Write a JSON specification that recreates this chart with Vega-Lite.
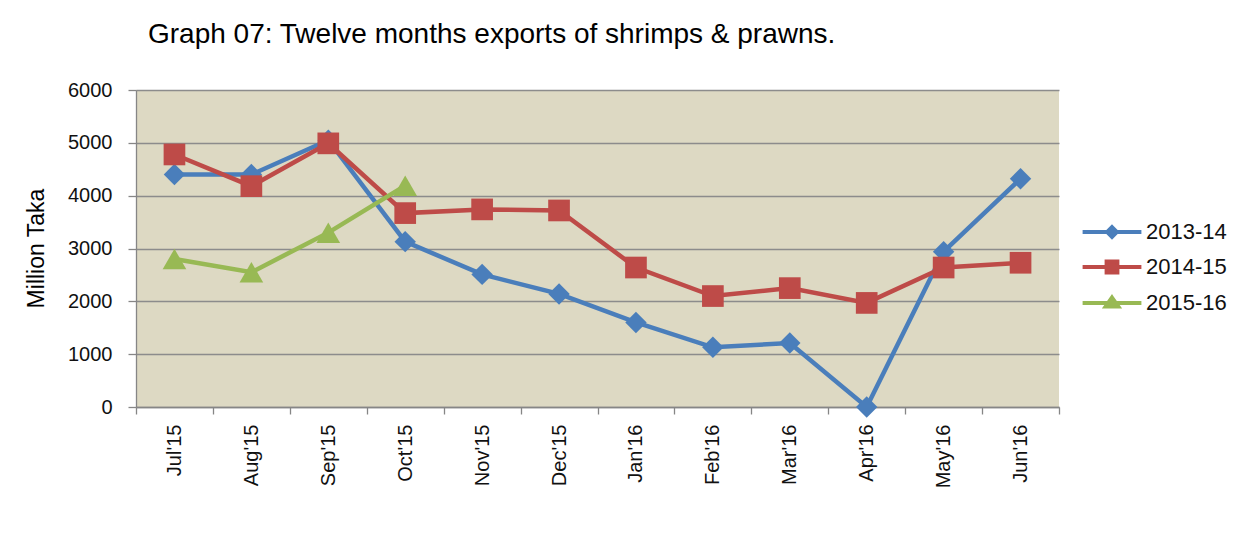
{
  "$schema": "https://vega.github.io/schema/vega-lite/v6.json",
  "autosize": "none",
  "width": 923,
  "height": 317,
  "padding": {"left": 136, "top": 90, "right": 199, "bottom": 137},
  "background": "white",
  "title": {
    "text": "Graph 07: Twelve months exports of shrimps & prawns.",
    "anchor": "start",
    "frame": "group",
    "dx": 12,
    "font": "Liberation Sans",
    "fontSize": 28,
    "fontWeight": "normal",
    "color": "#000000",
    "baseline": "alphabetic",
    "offset": 9
  },
  "config": {
    "view": {"stroke": null, "fill": "#DDD9C3"},
    "axis": {"labelFont": "Liberation Sans", "titleFont": "Liberation Sans", "labelColor": "#111111", "titleColor": "#000000"}
  },
  "data": {
    "values": [
      {"month": "Jul'15", "series": "2013-14", "value": 4400},
      {"month": "Aug'15", "series": "2013-14", "value": 4400},
      {"month": "Sep'15", "series": "2013-14", "value": 5050},
      {"month": "Oct'15", "series": "2013-14", "value": 3130},
      {"month": "Nov'15", "series": "2013-14", "value": 2510},
      {"month": "Dec'15", "series": "2013-14", "value": 2140},
      {"month": "Jan'16", "series": "2013-14", "value": 1600},
      {"month": "Feb'16", "series": "2013-14", "value": 1130},
      {"month": "Mar'16", "series": "2013-14", "value": 1210},
      {"month": "Apr'16", "series": "2013-14", "value": 0},
      {"month": "May'16", "series": "2013-14", "value": 2940},
      {"month": "Jun'16", "series": "2013-14", "value": 4320},
      {"month": "Jul'15", "series": "2014-15", "value": 4780},
      {"month": "Aug'15", "series": "2014-15", "value": 4180},
      {"month": "Sep'15", "series": "2014-15", "value": 4990},
      {"month": "Oct'15", "series": "2014-15", "value": 3670},
      {"month": "Nov'15", "series": "2014-15", "value": 3740},
      {"month": "Dec'15", "series": "2014-15", "value": 3720},
      {"month": "Jan'16", "series": "2014-15", "value": 2640},
      {"month": "Feb'16", "series": "2014-15", "value": 2100},
      {"month": "Mar'16", "series": "2014-15", "value": 2250},
      {"month": "Apr'16", "series": "2014-15", "value": 1970},
      {"month": "May'16", "series": "2014-15", "value": 2640},
      {"month": "Jun'16", "series": "2014-15", "value": 2730},
      {"month": "Jul'15", "series": "2015-16", "value": 2800},
      {"month": "Aug'15", "series": "2015-16", "value": 2550},
      {"month": "Sep'15", "series": "2015-16", "value": 3300},
      {"month": "Oct'15", "series": "2015-16", "value": 4190}
    ]
  },
  "encoding": {
    "x": {
      "field": "month",
      "type": "ordinal",
      "sort": null,
      "bandPosition": 0.5,
      "scale": {"type": "band", "paddingInner": 0, "paddingOuter": 0,
        "domain": ["Jul'15","Aug'15","Sep'15","Oct'15","Nov'15","Dec'15","Jan'16","Feb'16","Mar'16","Apr'16","May'16","Jun'16"]},
      "axis": {
        "title": null,
        "labelAngle": -90,
        "labelAlign": "right",
        "labelBaseline": "middle",
        "labelFontSize": 20,
        "labelPadding": 10,
        "tickBand": "extent",
        "tickSize": 7,
        "tickColor": "#868686",
        "tickWidth": 1.3,
        "domainColor": "#868686",
        "domainWidth": 1.3,
        "grid": false
      }
    },
    "y": {
      "field": "value",
      "type": "quantitative",
      "scale": {"domain": [0, 6000], "nice": false},
      "axis": {
        "title": "Million Taka",
        "titleFontSize": 23,
        "titleFontWeight": "normal",
        "titleAngle": -90,
        "titleX": -100,
        "titleY": 158,
        "titleAlign": "center",
        "titleBaseline": "middle",
        "values": [0, 1000, 2000, 3000, 4000, 5000, 6000],
        "format": "d",
        "labelFontSize": 20,
        "labelPadding": 16,
        "tickSize": 8,
        "tickColor": "#868686",
        "tickWidth": 1.3,
        "domainColor": "#868686",
        "domainWidth": 1.3,
        "grid": true,
        "gridColor": "#8C8C8C",
        "gridWidth": 1.3
      }
    },
    "color": {
      "field": "series",
      "type": "nominal",
      "scale": {"domain": ["2013-14", "2014-15", "2015-16"], "range": ["#4A7EBB", "#BE4B48", "#98B954"]},
      "legend": {
        "title": null,
        "orient": "none",
        "legendX": 965,
        "legendY": 131,
        "padding": 0,
        "labelFont": "Liberation Sans",
        "labelFontSize": 22,
        "labelColor": "#111111",
        "labelOffset": 23,
        "rowPadding": 8,
        "symbolSize": 144,
        "symbolStrokeWidth": 4,
        "encode": {
          "symbols": {
            "update": {
              "shape": {"signal": "datum.value === '2013-14' ? 'M-4.9,0H4.9M0,-0.8L0.8,0L0,0.8L-0.8,0Z' : datum.value === '2014-15' ? 'M-4.9,0H4.9M-0.9,-0.9H0.9V0.9H-0.9Z' : 'M-4.9,0H4.9M0,-0.9L1.05,0.6L-1.05,0.6Z'"},
              "fill": {"signal": "datum.value === '2013-14' ? '#4A7EBB' : datum.value === '2014-15' ? '#BE4B48' : '#98B954'"},
              "stroke": {"signal": "datum.value === '2013-14' ? '#4A7EBB' : datum.value === '2014-15' ? '#BE4B48' : '#98B954'"},
              "strokeWidth": {"value": 4},
              "size": {"value": 144},
              "opacity": {"value": 1}
            }
          }
        }
      }
    }
  },
  "layer": [
    {
      "transform": [{"filter": "datum.series === '2013-14'"}],
      "mark": {"type": "line", "strokeWidth": 4.5}
    },
    {
      "transform": [{"filter": "datum.series === '2013-14'"}],
      "mark": {"type": "point", "filled": true, "opacity": 1, "shape": "diamond", "size": 460}
    },
    {
      "transform": [{"filter": "datum.series === '2014-15'"}],
      "mark": {"type": "line", "strokeWidth": 4.5}
    },
    {
      "transform": [{"filter": "datum.series === '2014-15'"}],
      "mark": {"type": "point", "filled": true, "opacity": 1, "shape": "square", "size": 470}
    },
    {
      "transform": [{"filter": "datum.series === '2015-16'"}],
      "mark": {"type": "line", "strokeWidth": 4.5}
    },
    {
      "transform": [{"filter": "datum.series === '2015-16'"}],
      "mark": {"type": "point", "filled": true, "opacity": 1, "shape": "triangle-up", "size": 560}
    }
  ]
}
